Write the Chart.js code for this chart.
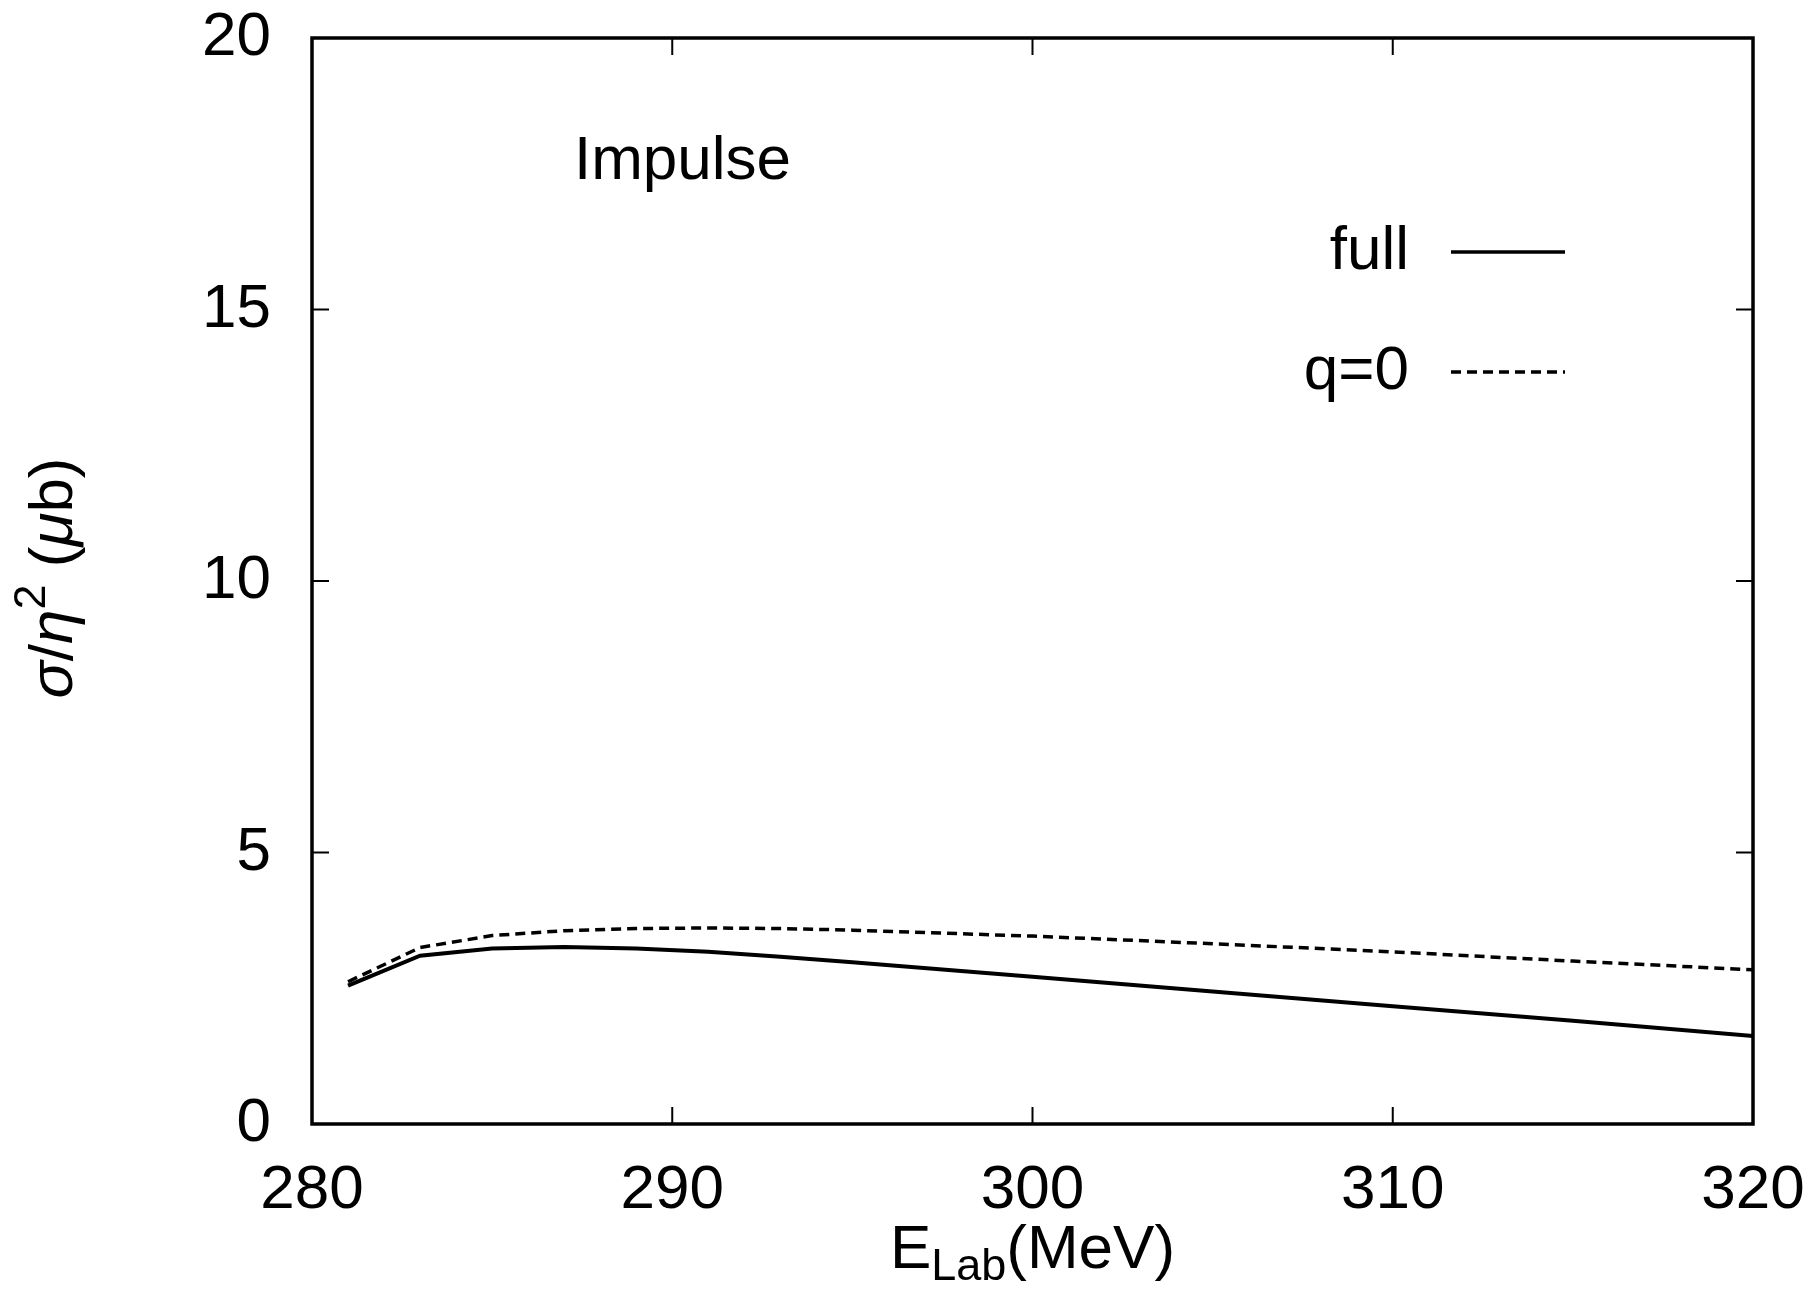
<!DOCTYPE html>
<html>
<head>
<meta charset="utf-8">
<script src="https://cdn.jsdelivr.net/npm/chart.js@4"></script>
<style>
  html, body { margin: 0; padding: 0; background: #fff; }
  #wrap { width: 1811px; height: 1291px; }
</style>
</head>
<body>
<div id="wrap"><canvas id="chart" width="1811" height="1291"></canvas></div>
<script>
// energies (MeV) and cross sections
const energies = [281, 283, 285, 287, 289, 291, 293, 295, 300, 305, 310, 315, 320];
const fullValues = [2.55, 3.10, 3.23, 3.26, 3.23, 3.17, 3.08, 2.98, 2.71, 2.44, 2.17, 1.90, 1.62];
const q0Values = [2.62, 3.25, 3.47, 3.56, 3.60, 3.61, 3.60, 3.57, 3.46, 3.32, 3.17, 3.00, 2.84];

const xTicks = [280, 290, 300, 310, 320];
const yTicks = [0, 5, 10, 15, 20];
const seriesLabels = ['full', 'q=0'];

const FONT = '"Liberation Sans", Arial, Helvetica, sans-serif';
const FS = 62;

function toPoints(vals) {
    return energies.map((e, i) => ({ x: e, y: vals[i] }));
}

// frame, inner tick marks, legend, titles
const decorations = {
    id: 'decorations',
    afterDraw(chart) {
        const ctx = chart.ctx;
        const a = chart.chartArea;
        const xs = chart.scales.x;
        const ys = chart.scales.y;
        const tl = 17;

        ctx.save();
        ctx.strokeStyle = '#000';
        ctx.lineWidth = 2;
        xTicks.slice(1, -1).forEach(v => {
            const px = xs.getPixelForValue(v);
            ctx.beginPath();
            ctx.moveTo(px, a.bottom); ctx.lineTo(px, a.bottom - tl);
            ctx.moveTo(px, a.top); ctx.lineTo(px, a.top + tl);
            ctx.stroke();
        });
        yTicks.slice(1, -1).forEach(v => {
            const py = ys.getPixelForValue(v);
            ctx.beginPath();
            ctx.moveTo(a.left, py); ctx.lineTo(a.left + tl, py);
            ctx.moveTo(a.right, py); ctx.lineTo(a.right - tl, py);
            ctx.stroke();
        });

        ctx.lineWidth = 3.5;
        ctx.strokeRect(a.left, a.top, a.right - a.left, a.bottom - a.top);

        // annotation
        ctx.fillStyle = '#000';
        ctx.font = FS + 'px ' + FONT;
        ctx.textAlign = 'left';
        ctx.textBaseline = 'middle';
        ctx.fillText('Impulse', 574, 162);

        // legend
        const legendY = [252, 372];
        const dashes = [[], [10, 6]];
        ctx.textAlign = 'right';
        seriesLabels.forEach((lab, i) => {
            ctx.fillText(lab, 1409, legendY[i]);
            ctx.beginPath();
            ctx.setLineDash(dashes[i]);
            ctx.lineWidth = 3.5;
            ctx.moveTo(1451, legendY[i]);
            ctx.lineTo(1565, legendY[i]);
            ctx.stroke();
        });
        ctx.setLineDash([]);

        // x title: E_Lab(MeV)
        ctx.textAlign = 'left';
        ctx.textBaseline = 'alphabetic';
        const subFs = Math.round(FS * 0.72);
        ctx.font = FS + 'px ' + FONT;
        const wE = ctx.measureText('E').width;
        const wRest = ctx.measureText('(MeV)').width;
        ctx.font = subFs + 'px ' + FONT;
        const wSub = ctx.measureText('Lab').width;
        const x0 = (a.left + a.right) / 2 - (wE + wSub + wRest) / 2;
        const base = 1268;
        ctx.font = FS + 'px ' + FONT;
        ctx.fillText('E', x0, base);
        ctx.font = subFs + 'px ' + FONT;
        ctx.fillText('Lab', x0 + wE, base + 12);
        ctx.font = FS + 'px ' + FONT;
        ctx.fillText('(MeV)', x0 + wE + wSub, base);

        // y title: σ/η² (μb), rotated
        ctx.translate(55, 578);
        ctx.rotate(-Math.PI / 2);
        const parts = [
            { t: 'σ', f: 'italic ' + FS + 'px ' + FONT, dy: 0 },
            { t: '/', f: FS + 'px ' + FONT, dy: 0 },
            { t: 'η', f: 'italic ' + FS + 'px ' + FONT, dy: 0 },
            { t: '2', f: subFs + 'px ' + FONT, dy: -22 },
            { t: ' (', f: FS + 'px ' + FONT, dy: 0 },
            { t: 'μ', f: 'italic ' + FS + 'px ' + FONT, dy: 0 },
            { t: 'b)', f: FS + 'px ' + FONT, dy: 0 }
        ];
        let total = 0;
        parts.forEach(p => { ctx.font = p.f; p.w = ctx.measureText(p.t).width; total += p.w; });
        let px = -total / 2;
        ctx.textBaseline = 'middle';
        parts.forEach(p => {
            ctx.font = p.f;
            ctx.fillText(p.t, px, p.dy);
            px += p.w;
        });
        ctx.restore();
    }
};

new Chart(document.getElementById('chart'), {
    type: 'line',
    data: {
        datasets: [
            {
                label: seriesLabels[0],
                data: toPoints(fullValues),
                borderColor: '#000',
                borderWidth: 4,
                pointRadius: 0,
                tension: 0,
                fill: false
            },
            {
                label: seriesLabels[1],
                data: toPoints(q0Values),
                borderColor: '#000',
                borderWidth: 3.5,
                borderDash: [10, 6],
                pointRadius: 0,
                tension: 0,
                fill: false
            }
        ]
    },
    options: {
        responsive: false,
        animation: false,
        layout: { padding: { top: 38, right: 58, left: 0, bottom: 0 } },
        plugins: {
            legend: { display: false },
            tooltip: { enabled: false }
        },
        scales: {
            x: {
                type: 'linear',
                min: 280,
                max: 320,
                afterBuildTicks: s => { s.ticks = xTicks.map(v => ({ value: v })); },
                afterFit: s => { s.height = 167; s.paddingLeft = 0; s.paddingRight = 0; },
                grid: { display: false, drawTicks: false },
                border: { display: false },
                ticks: {
                    padding: 30,
                    color: '#000',
                    font: { family: FONT, size: FS }
                }
            },
            y: {
                min: 0,
                max: 20,
                afterBuildTicks: s => { s.ticks = yTicks.map(v => ({ value: v })); },
                afterFit: s => { s.width = 312; s.paddingTop = 0; s.paddingBottom = 0; },
                grid: { display: false, drawTicks: false },
                border: { display: false },
                ticks: {
                    padding: 41,
                    color: '#000',
                    font: { family: FONT, size: FS }
                }
            }
        }
    },
    plugins: [decorations]
});
</script>
</body>
</html>
